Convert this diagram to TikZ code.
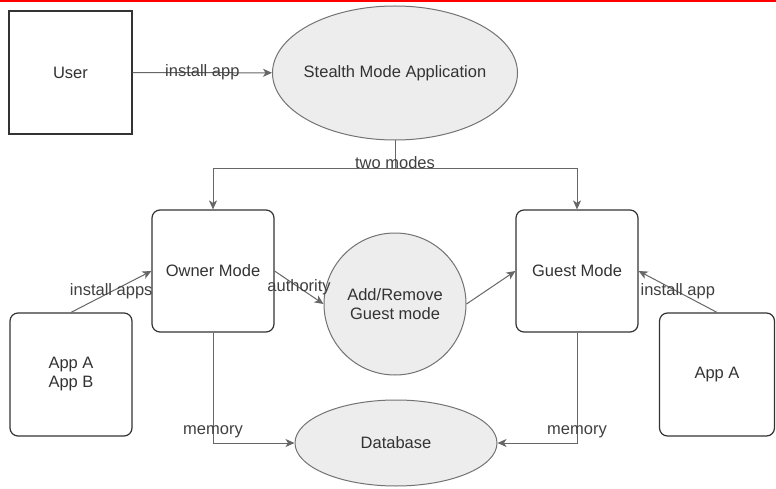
\documentclass[tikz,border=0pt]{standalone}
\usepackage{fontspec}
\setmainfont{Liberation Sans}
\usetikzlibrary{arrows.meta, shapes.geometric, positioning}

\tikzset{
  box/.style={draw=black!80, line width=1.4pt, minimum width=123pt, minimum height=123pt, inner sep=0pt, text=black!80, align=center},
  modebox/.style={box, rounded corners=8pt, line width=1.2pt, minimum width=122pt, minimum height=122pt},
  bubble/.style={ellipse, draw=black!55, fill=black!7, line width=1pt, inner sep=0pt, text=black!80, align=center},
  conn/.style={draw=black!60, line width=1pt, -{Stealth[length=9pt,width=8pt,inset=2.5pt]}},
  lbl/.style={text=black!75, inner sep=1pt}
}

\begin{document}
\begin{tikzpicture}[x=1pt, y=-1pt, font=\fontsize{16.5}{19}\selectfont]
\useasboundingbox (0,0) rectangle (776,489);
\fill[white] (0,0) rectangle (776,489);
% Frame
\draw[red, line width=2pt] (0,1) -- (776,1);

% Entities
\node[box] (user) at (70.5,72.5) {User};
\node[bubble, minimum width=245pt, minimum height=134pt,
      label={[text=black!80]center:Stealth Mode Application}] (app) at (395,73) {};
\node[modebox] (owner) at (213,271) {Owner Mode};
\node[modebox] (guest) at (577,271) {Guest Mode};
\node[bubble, circle, minimum size=142pt] (addrem) at (395,304) {Add/Remove\\Guest mode};
\node[modebox, minimum height=123pt] (apps) at (71,374.5) {App A\\App B};
\node[modebox, minimum width=115pt, minimum height=123pt] (appa) at (717,374.5) {App A};
\node[bubble, minimum width=202pt, minimum height=86pt] (db) at (396,443) {Database};

% Connectors
\coordinate (split) at (395,169);
\draw[conn] (user) -- (app) node[midway, lbl] {install app};
\draw[draw=black!60, line width=1pt] (app.south) -- (split);
\draw[conn] (split) -| (owner.north);
\draw[conn] (split) -| (guest.north);
\node[lbl] (twomodes) at (395,163) {two modes};
\draw[conn] (owner.east) -- (addrem.west) node[midway, lbl] {authority};
\draw[conn] (addrem.east) -- (guest.west);
\draw[conn] (apps.north) -- (owner.west) node[midway, lbl] {install apps};
\draw[conn] (appa.north) -- (guest.east) node[midway, lbl] {install app};
\draw[conn] (owner.south) |- (db.west) node[pos=0.45, lbl] {memory};
\draw[conn] (guest.south) |- (db.east) node[pos=0.45, lbl] {memory};
\end{tikzpicture}
\end{document}
